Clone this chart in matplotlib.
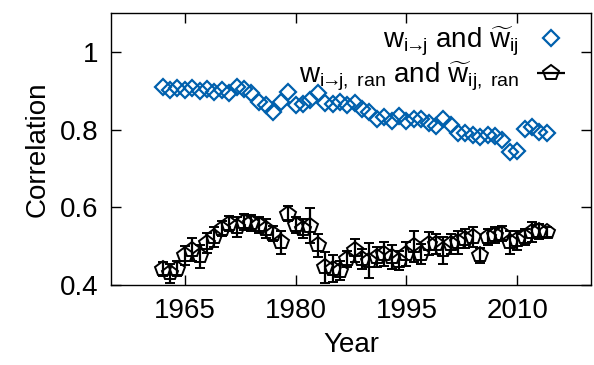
import matplotlib.pyplot as plt

# one point per year, 1962-2014
years = list(range(1962, 2015))

w_dir = [0.910, 0.903, 0.908, 0.901, 0.907, 0.899, 0.905, 0.897, 0.902, 0.895,
         0.910, 0.905, 0.893, 0.870, 0.862, 0.846, 0.870, 0.897, 0.862, 0.866,
         0.875, 0.893, 0.869, 0.867, 0.872, 0.864, 0.868, 0.852, 0.846, 0.826,
         0.832, 0.822, 0.836, 0.822, 0.826, 0.826, 0.818, 0.810, 0.826, 0.812,
         0.790, 0.792, 0.785, 0.782, 0.785, 0.784, 0.772, 0.742, 0.746, 0.802,
         0.806, 0.794, 0.792]

w_ran = [0.442, 0.430, 0.442, 0.476, 0.491, 0.474, 0.508, 0.523, 0.545, 0.558,
         0.549, 0.562, 0.560, 0.555, 0.545, 0.532, 0.510, 0.584, 0.555, 0.545,
         0.553, 0.502, 0.446, 0.442, 0.437, 0.467, 0.489, 0.467, 0.463, 0.472,
         0.480, 0.472, 0.463, 0.480, 0.500, 0.480, 0.506, 0.506, 0.489, 0.506,
         0.510, 0.519, 0.523, 0.476, 0.523, 0.528, 0.532, 0.510, 0.515, 0.523,
         0.536, 0.538, 0.536]

w_ran_err = [0.018, 0.025, 0.020, 0.025, 0.030, 0.030, 0.025, 0.025, 0.020, 0.020,
             0.025, 0.020, 0.020, 0.020, 0.025, 0.020, 0.030, 0.020, 0.020, 0.025,
             0.045, 0.030, 0.040, 0.035, 0.025, 0.020, 0.030, 0.025, 0.045, 0.025,
             0.030, 0.030, 0.025, 0.030, 0.040, 0.025, 0.030, 0.025, 0.035, 0.025,
             0.030, 0.025, 0.025, 0.020, 0.020, 0.020, 0.020, 0.030, 0.025, 0.020,
             0.025, 0.020, 0.012]

xticks = [1965, 1980, 1995, 2010]
yticks = [0.4, 0.6, 0.8, 1.0]
ytick_labels = ['0.4', '0.6', '0.8', '1']

arrow = r'i\!\!\rightarrow\!\!j'
label_dir = r'$w_{' + arrow + r'}$ and $\widetilde{w}_{ij}$'
label_ran = r'$w_{' + arrow + r',\ ran}$ and $\widetilde{w}_{ij,\ ran}$'

plt.rcParams['font.family'] = ['Liberation Sans', 'DejaVu Sans']
plt.rcParams['mathtext.fontset'] = 'custom'
plt.rcParams['mathtext.rm'] = 'Liberation Sans'
plt.rcParams['mathtext.it'] = 'Liberation Sans'
plt.rcParams['font.size'] = 20

blue = '#0060ad'

fig = plt.figure(figsize=(5.94, 3.65), dpi=100)
# frame measured in pixels: x 111..591, y 13..285
ax = fig.add_axes([111 / 594, 80 / 365, 480 / 594, 272 / 365])

ax.plot(years, w_dir, 'D', ms=8.5, mfc='none', mec=blue, mew=1.6,
        label=label_dir, zorder=3)
ax.errorbar(years, w_ran, yerr=w_ran_err, fmt='p', ms=11.5, mfc='none',
            mec='black', mew=1.4, ecolor='black', elinewidth=1.6,
            capsize=3.8, capthick=1.6, zorder=2)
# legend sample drawn like gnuplot: horizontal bar with caps
ax.errorbar([], [], xerr=[], fmt='p', ms=11.5, mfc='none', mec='black',
            mew=1.4, ecolor='black', elinewidth=1.6, capsize=3.8,
            capthick=1.6, label=label_ran)

ax.set_xlim(1955, 2020)
ax.set_ylim(0.4, 1.1)
ax.set_xticks(xticks)
ax.set_yticks(yticks)
ax.set_yticklabels(ytick_labels)
ax.tick_params(direction='in', length=7, width=1, top=True, right=True)
ax.tick_params(axis='x', pad=9)
ax.tick_params(axis='y', pad=9)
for s in ax.spines.values():
    s.set_linewidth(1)

ax.set_xlabel('Year', labelpad=6)
ax.set_ylabel('Correlation', labelpad=7)

ax.legend(loc='upper right', frameon=False, markerfirst=False,
          handlelength=1.2, handletextpad=0.55, labelspacing=0.05,
          borderaxespad=0.0, bbox_to_anchor=(0.975, 1.0))

fig.savefig('out.png', dpi=100)
